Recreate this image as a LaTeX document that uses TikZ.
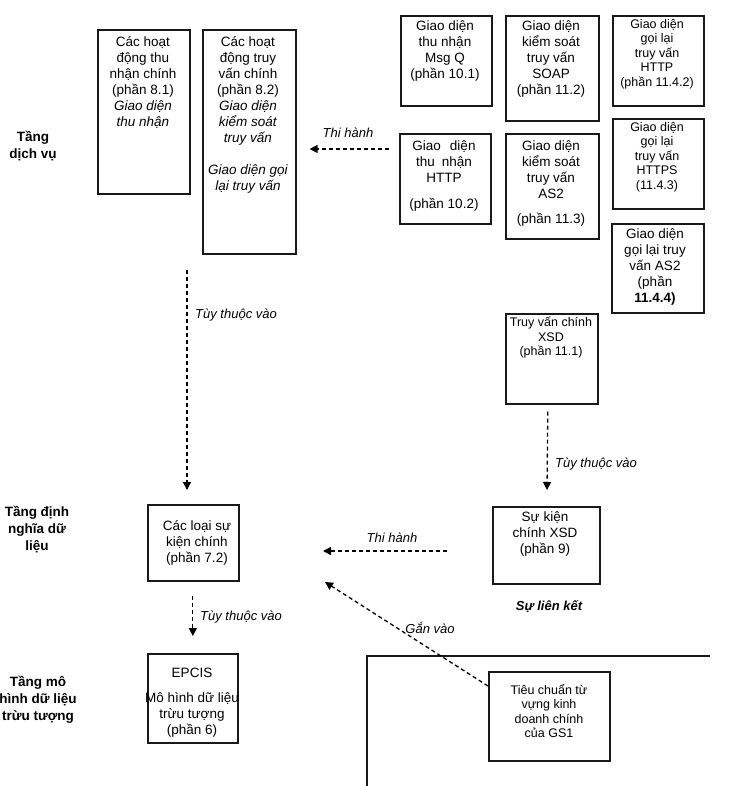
\documentclass[tikz,border=0pt]{standalone}
\usepackage{fontspec}
\setmainfont{Liberation Sans}
\usetikzlibrary{arrows.meta}
\begin{document}
\begin{tikzpicture}[x=1pt,y=-1pt,
  box/.style={draw=black!90, line width=1.6pt, inner sep=0pt, anchor=north west},
  txt/.style={align=center, inner sep=0pt, anchor=north, font=\fontsize{13.5}{16}\selectfont},
  stxt/.style={align=center, inner sep=0pt, anchor=north, font=\fontsize{12.5}{14.5}\selectfont},
  lay/.style={align=center, inner sep=0pt, font=\bfseries\fontsize{13.5}{17}\selectfont},
  lbl/.style={inner sep=0pt, font=\itshape\fontsize{13}{15}\selectfont},
  dep/.style={line width=1.3pt, dash pattern=on 4pt off 3pt, -{Triangle[width=8pt,length=8pt]}}]
\useasboundingbox (0,0) rectangle (737,786);

% layer labels
\node[lay] (L1) at (33,146) {Tầng\\dịch vụ};
\node[lay] (L2) at (37,530) {Tầng định\\nghĩa dữ\\liệu};
\node[lay] (L3) at (38,700) {Tầng mô\\hình dữ liệu\\trừu tượng};

% service layer boxes
\node[box, minimum width=92pt, minimum height=164pt] (A) at (97,29) {};
\node[txt] (At) at (143,36) {Các hoạt\\động thu\\nhận chính\\(phần 8.1)\\\textit{Giao diện}\\\textit{thu nhận}};
\node[box, minimum width=93pt, minimum height=224pt] (B) at (202,29) {};
\node[txt] (Bt) at (248,36) {Các hoạt\\động truy\\vấn chính\\(phần 8.2)\\\textit{Giao diện}\\\textit{kiểm soát}\\\textit{truy vấn}\\[16pt]\textit{Giao diện gọi}\\\textit{lại truy vấn}};

\node[box, minimum width=91pt, minimum height=90pt] (MQ) at (400,15) {};
\node[txt] (MQt) at (445,20) {Giao diện\\thu nhận\\Msg Q\\(phần 10.1)};
\node[box, minimum width=93pt, minimum height=105pt] (SO) at (505,15) {};
\node[txt] (SOt) at (551,20) {Giao diện\\kiểm soát\\truy vấn\\SOAP\\(phần 11.2)};
\node[box, minimum width=91pt, minimum height=90pt] (HC) at (612,15) {};
\node[stxt] (HCt) at (657,19) {Giao diện\\gọi lại\\truy vấn\\HTTP\\(phần 11.4.2)};

\node[box, minimum width=91pt, minimum height=90pt] (HP) at (399,133) {};
\node[txt] (HPt) at (444,140) {Giao\hspace{9pt}diện\\thu\hspace{7pt}nhận\\HTTP\\[10pt](phần 10.2)};
\node[box, minimum width=93pt, minimum height=105pt] (AC) at (505,133) {};
\node[txt] (ACt) at (551,140) {Giao diện\\kiểm soát\\truy vấn\\AS2\\[9pt](phần 11.3)};
\node[box, minimum width=91pt, minimum height=90pt] (HS) at (612,118) {};
\node[stxt] (HSt) at (657,122) {Giao diện\\gọi lại\\truy vấn\\HTTPS\\(11.4.3)};
\node[box, minimum width=92pt, minimum height=89pt] (AB) at (611,223) {};
\node[txt] (ABt) at (655,228) {Giao diện\\gọi lại truy\\vấn AS2\\(phần\\\textbf{11.4.4)}};

\node[box, minimum width=92pt, minimum height=90pt] (XQ) at (505,313) {};
\node[stxt] (XQt) at (551,317) {Truy vấn chính\\XSD\\(phần 11.1)};

% data definition layer
\node[box, minimum width=91pt, minimum height=76pt] (EV) at (147,504) {};
\node[txt] (EVt) at (197,520) {Các loại sự\\kiện chính\\(phần 7.2)};
\node[box, minimum width=107pt, minimum height=77pt] (XE) at (492,506) {};
\node[txt] (XEt) at (545,511) {Sự kiện\\chính XSD\\(phần 9)};
\node[font=\bfseries\itshape\fontsize{13}{15}\selectfont, inner sep=0pt] (LK) at (549,607) {Sự liên kết};

% abstract data model layer
\node[box, minimum width=90pt, minimum height=89pt] (EP) at (147,653) {};
\node[txt] (EPt) at (192,668) {EPCIS\\[9pt]Mô hình dữ liệu\\trừu tượng\\(phần 6)};

% vocabulary area
\draw[line width=1.6pt, draw=black!90] (367,786) -- (367,656) -- (710,656);
\node[box, minimum width=121pt, minimum height=89pt] (GS) at (488,671) {};
\node[stxt] (GSt) at (549,684) {Tiêu chuẩn từ\\vựng kinh\\doanh chính\\của GS1};

% connector end points
\coordinate (a1s) at ([shift={(-10,16)}]HP.north west);
\coordinate (a1e) at ([shift={(13,120)}]B.north east);
\coordinate (a2s) at ([shift={(-15,15)}]B.south west);
\coordinate (a2e) at ([shift={(40,-14)}]EV.north west);
\coordinate (a3s) at ([shift={(-4,7)}]XQ.south);
\coordinate (a3e) at ([shift={(55,-16)}]XE.north west);
\coordinate (a4s) at ([shift={(-45,45)}]XE.north west);
\coordinate (a4e) at ([shift={(176,47)}]EV.north west);
\coordinate (a5s) at ([shift={(-0.5,14)}]EV.south);
\coordinate (a5e) at ([shift={(0,-17)}]EP.north);
\coordinate (a6s) at ([shift={(0,15)}]GS.north west);
\coordinate (a6e) at ([shift={(178,78)}]EV.north west);

\draw[dep] (a1s) -- (a1e);
\node[lbl] (t1) at (348,133) {Thi hành};
\draw[dep] (a2s) -- (a2e);
\node[lbl, anchor=west] (t2) at (195,315) {Tùy thuộc vào};
\draw[dep] (a3s) -- (a3e);
\node[lbl, anchor=west] (t3) at (555,464) {Tùy thuộc vào};
\draw[dep] (a4s) -- (a4e);
\node[lbl] (t4) at (392,538) {Thi hành};
\draw[dep] (a5s) -- (a5e);
\node[lbl, anchor=west] (t5) at (200,617) {Tùy thuộc vào};
\draw[dep] (a6s) -- (a6e);
\node[lbl] (t6) at (430,628) {Gắn vào};
\end{tikzpicture}
\end{document}
